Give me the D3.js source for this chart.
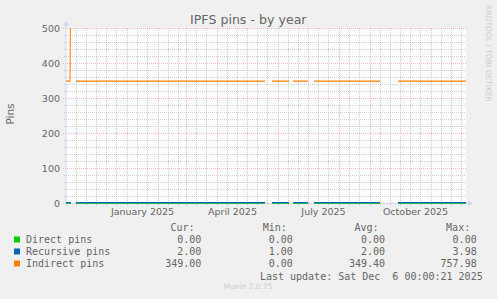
<!DOCTYPE html>
<html>
<head>
<meta charset="utf-8">
<script src="https://cdn.jsdelivr.net/npm/d3@7"></script>
<style>
html,body{margin:0;padding:0;background:#f0f0f0;}
svg{display:block;}
text{white-space:pre;}
</style>
</head>
<body>
<svg id="chart" width="497" height="299"></svg>
<script>
// ---- data ----
const title = "IPFS pins - by year";
const yLabel = "Pins";
const seriesNames = ["Direct pins", "Recursive pins", "Indirect pins"];
// shared time points (UTC days); null values mark gaps in the data
const dates = ["2024-11-01","2024-11-05","2024-11-06","2024-11-07","2024-11-11","2025-05-19","2025-05-20",
               "2025-05-26","2025-06-12","2025-06-13","2025-06-16","2025-07-01","2025-07-02",
               "2025-07-07","2025-09-11","2025-09-12","2025-09-29","2025-12-06"];
const directValues    = [0,0,0,null,0,0,null,0,0,null,0,0,null,0,0,null,0,0];
const recursiveValues = [2,2,2,null,2,2,null,2,2,null,2,2,null,2,2,null,2,2];
const indirectValues  = [349,349,758,null,349,349,null,349,349,null,349,349,null,349,349,null,349,349];
const yTicks = [0,100,200,300,400,500];
const xTickLabels = ["January 2025","April 2025","July 2025","October 2025"];
const legendHeaders = ["Cur:","Min:","Avg:","Max:"];
const curValues = ["0.00","2.00","349.00"];
const minValues = ["0.00","1.00","0.00"];
const avgValues = ["0.00","2.00","349.40"];
const maxValues = ["0.00","3.98","757.98"];
const lastUpdate = "Last update: Sat Dec  6 00:00:21 2025";
const footer = "Munin 2.0.75";
const sideText = "RRDTOOL / TOBI OETIKER";

(function(){
// ---- style ----
const colors = ["#00cc00","#0066b3","#ff8000"];
const fontColor = "#666666";
const axisColor = "#cfd6f8";
const minorColor = "rgba(140,140,140,0.4)";
const majorColor = "rgba(240,110,110,0.45)";
const svg = d3.select("#chart");
const W = 497, H = 299;
const pL = 66, pR = 466, pT = 28.3, pB = 203.3;

svg.append("rect").attr("width",W).attr("height",H).attr("fill","#f0f0f0");

const parse = d3.utcParse("%Y-%m-%d");
const start = parse("2024-11-01"), end = parse("2025-12-06");
const x = d3.scaleUtc().domain([start,end]).range([pL,pR]);
const y = d3.scaleLinear().domain([0,500]).range([pB,pT]);

svg.append("rect").attr("x",pL).attr("y",pT).attr("width",pR-pL).attr("height",pB-pT).attr("fill","#ffffff");

const grid = svg.append("g");
const minorY = d3.range(0,501,20).filter(v => v % 100 !== 0);
grid.selectAll(".hmin").data(minorY).join("line")
  .attr("x1",pL-2).attr("x2",pR).attr("y1",d=>Math.round(y(d))+0.5).attr("y2",d=>Math.round(y(d))+0.5)
  .attr("stroke",minorColor).attr("stroke-dasharray","1,1");
const months = d3.utcMonth.range(start, d3.utcDay.offset(end,1));
const minorX = [];
d3.utcMonth.range(d3.utcMonth.floor(start), end).forEach(m => {
  [10,20].forEach(k => { const d = d3.utcDay.offset(m,k); if (d > start && d < end) minorX.push(d); });
});
grid.selectAll(".vmin").data(minorX).join("line")
  .attr("x1",d=>Math.round(x(d))+0.5).attr("x2",d=>Math.round(x(d))+0.5).attr("y1",28).attr("y2",206)
  .attr("stroke",minorColor).attr("stroke-dasharray","1,1");
grid.selectAll(".hmaj").data(yTicks).join("line")
  .attr("x1",pL-3).attr("x2",pR).attr("y1",d=>Math.round(y(d))+0.5).attr("y2",d=>Math.round(y(d))+0.5)
  .attr("stroke",majorColor).attr("stroke-dasharray","1,1");
grid.selectAll(".vmaj").data(months.filter(d => d > start && d <= end)).join("line")
  .attr("x1",d=>Math.round(x(d))+0.5).attr("x2",d=>Math.round(x(d))+0.5).attr("y1",28).attr("y2",206)
  .attr("stroke",majorColor).attr("stroke-dasharray","1,1");

// axes lines with arrows
svg.append("line").attr("x1",pL-3).attr("x2",pR+3).attr("y1",pB).attr("y2",pB)
  .attr("stroke",axisColor).attr("stroke-width",1);
svg.append("path").attr("d",`M${pR+2},${pB-3}L${pR+7},${pB}L${pR+2},${pB+3}Z`).attr("fill",axisColor);
svg.append("line").attr("x1",pL).attr("x2",pL).attr("y1",pB+3).attr("y2",pT-4)
  .attr("stroke",axisColor).attr("stroke-width",1);
svg.append("path").attr("d",`M${pL-3},${pT-2.5}L${pL},${pT-7.5}L${pL+3},${pT-2.5}Z`).attr("fill",axisColor);

// y tick labels
const yAxis = d3.axisLeft(y).tickValues(yTicks).tickSize(0).tickPadding(4);
const yg = svg.append("g").attr("transform",`translate(${pL-2},0)`).call(yAxis);
yg.select(".domain").remove();
yg.selectAll("text").attr("fill",fontColor).attr("font-family","DejaVu Sans").attr("font-size","9.5px");

// x tick labels: centered mid-month
const labelMonths = [parse("2025-01-01"),parse("2025-04-01"),parse("2025-07-01"),parse("2025-10-01")];
const xAxis = d3.axisBottom(x).tickValues(labelMonths.map(m => d3.utcDay.offset(m,15)))
  .tickFormat((d,i) => xTickLabels[i]).tickSize(0).tickPadding(0);
const xg = svg.append("g").attr("transform",`translate(0,${pB})`).call(xAxis);
xg.select(".domain").remove();
xg.selectAll("text").attr("fill",fontColor).attr("font-family","DejaVu Sans").attr("font-size","9.5px")
  .attr("dy",null).attr("y",12.2);

// data lines
svg.append("clipPath").attr("id","clip").append("rect")
  .attr("x",pL).attr("y",pT).attr("width",pR-pL+1).attr("height",pB-pT+2);
const seriesValues = [directValues, recursiveValues, indirectValues];
const line = d3.line().defined(d => d[1] !== null).x(d => x(d[0])).y(d => y(d[1]));
const lg = svg.append("g").attr("clip-path","url(#clip)");
seriesValues.forEach((vals,i) => {
  const pts = dates.map((d,j) => [parse(d), vals[j]]);
  lg.append("path").attr("d", line(pts)).attr("fill","none").attr("stroke",colors[i])
    .attr("stroke-width", 1.1);
});

// title
svg.append("text").attr("x",248.3).attr("y",24).attr("text-anchor","middle")
  .attr("font-family","DejaVu Sans").attr("font-size","12.6px").attr("fill",fontColor).text(title);
svg.append("text").attr("transform","translate(13.5,114) rotate(-90)").attr("text-anchor","middle")
  .attr("font-family","DejaVu Sans").attr("font-size","10.5px").attr("fill",fontColor).text(yLabel);
svg.append("text").attr("transform","translate(485.5,53.5) rotate(90)").attr("text-anchor","middle")
  .attr("font-family","DejaVu Sans").attr("font-size","7.5px").attr("fill","#cccccc").text(sideText);

// legend
const mono = "DejaVu Sans Mono";
const leg = svg.append("g").attr("font-family",mono).attr("font-size","10px").attr("fill",fontColor);
const headerRight = [194.5, 286.8, 378.5, 470.2];
const valueRight = [201.3, 292.8, 385, 476.7];
legendHeaders.forEach((h,i) => leg.append("text").attr("x",headerRight[i]).attr("y",231).attr("text-anchor","end").text(h));
const cols = [curValues, minValues, avgValues, maxValues];
seriesNames.forEach((name,r) => {
  const by = 243 + r*12;
  leg.append("rect").attr("x",14).attr("y",by-6.5).attr("width",6).attr("height",6).attr("fill",colors[r]);
  leg.append("text").attr("x",26).attr("y",by).text(name);
  cols.forEach((c,k) => leg.append("text").attr("x",valueRight[k]).attr("y",by).attr("text-anchor","end").text(c[r]));
});
leg.append("text").attr("x",482.7).attr("y",279.5).attr("text-anchor","end").text(lastUpdate);

svg.append("text").attr("x",248).attr("y",289).attr("text-anchor","middle")
  .attr("font-family","DejaVu Sans").attr("font-size","7.5px").attr("fill","#cccccc").text(footer);
})();
</script>
</body>
</html>
